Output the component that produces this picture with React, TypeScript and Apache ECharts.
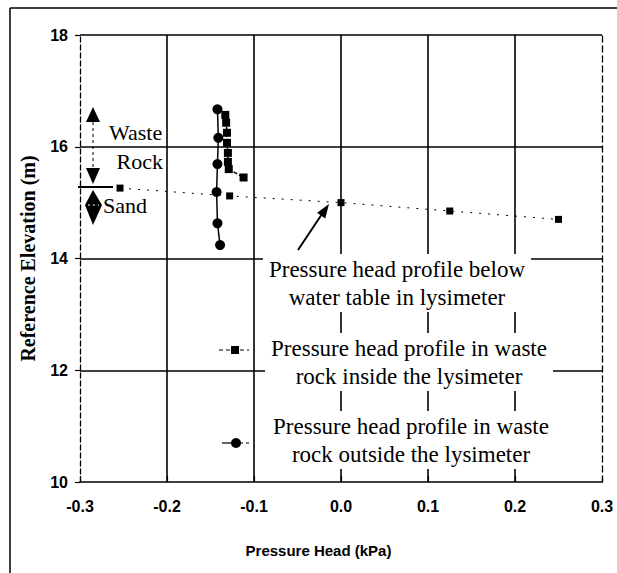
import React, { useEffect, useRef } from "react";
import * as echarts from "echarts";

// Pressure head (kPa) vs reference elevation (m)
const outsideX = [-0.142, -0.141, -0.142, -0.143, -0.142, -0.139];
const outsideY = [16.67, 16.16, 15.69, 15.19, 14.63, 14.24];

const insideX = [-0.133, -0.132, -0.131, -0.131, -0.13, -0.13, -0.129, -0.112];
const insideY = [16.57, 16.43, 16.25, 16.07, 15.89, 15.73, 15.6, 15.45];

const belowX = [-0.254, -0.128, 0.0, 0.125, 0.25];
const belowY = [15.26, 15.12, 15.0, 14.85, 14.7];

const xTickMin = -0.3;
const xTickMax = 0.3;
const xTickStep = 0.1;
const yTickMin = 10;
const yTickMax = 18;
const yTickStep = 2;

const legendBelow = "Pressure head profile below\nwater table in lysimeter";
const legendInside = "Pressure head profile in waste\nrock inside the lysimeter";
const legendOutside = "Pressure head profile in waste\nrock outside the lysimeter";

const zip = (xs: number[], ys: number[]) => xs.map((x, i) => [x, ys[i]]);

const SERIF = '"Liberation Serif", "Times New Roman", serif';
const SANS = '"Liberation Sans", Arial, sans-serif';

export default function App() {
  const ref = useRef<HTMLDivElement>(null);
  useEffect(() => {
    document.body.style.margin = "0";
    if (!ref.current) return;
    const chart = echarts.init(ref.current, undefined, { renderer: "svg" });
    const legendText = (text: string, x: number, y: number) => ({
      type: "text",
      x,
      y,
      z: 50,
      style: {
        text,
        align: "center",
        verticalAlign: "middle",
        font: `23px ${SERIF}`,
        fill: "#000",
        lineHeight: 28,
        backgroundColor: "#fff",
        padding: [1, 6, 1, 6],
      },
    });
    const blk = { fill: "#000" };
    chart.setOption({
      animation: false,
      backgroundColor: "#fff",
      grid: { left: 80, right: 15, top: 35, bottom: 91 },
      xAxis: [
        {
          type: "value",
          min: xTickMin,
          max: xTickMax,
          interval: xTickStep,
          name: "Pressure Head (kPa)",
          nameLocation: "middle",
          nameGap: 61,
          nameTextStyle: {
            fontFamily: SANS,
            fontSize: 15,
            fontWeight: "bold",
            color: "#000",
            padding: [0, 45, 0, 0],
          },
          axisLine: { show: true, onZero: false, lineStyle: { color: "#000", width: 1.6 } },
          axisTick: { show: true, inside: true, length: 6, lineStyle: { color: "#000", width: 1.2 } },
          axisLabel: {
            margin: 16,
            fontFamily: SANS,
            fontSize: 16,
            fontWeight: "bold",
            color: "#000",
            formatter: (v: number) => (Math.abs(v) < 1e-9 ? "0.0" : v.toFixed(1)),
          },
          splitLine: {
            show: true,
            showMinLine: false,
            showMaxLine: false,
            lineStyle: { color: "#000", width: 1.6 },
          },
        },
      ],
      yAxis: [
        {
          type: "value",
          min: yTickMin,
          max: yTickMax,
          interval: yTickStep,
          name: "Reference Elevation (m)",
          nameLocation: "middle",
          nameGap: 42,
          nameTextStyle: {
            fontFamily: SERIF,
            fontSize: 20,
            fontWeight: "bold",
            color: "#000",
          },
          axisLine: { show: true, onZero: false, lineStyle: { color: "#000", width: 1.3, type: [5, 3] } },
          axisTick: { show: true, length: 5, lineStyle: { color: "#000", width: 1.2 } },
          axisLabel: {
            margin: 12,
            fontFamily: SANS,
            fontSize: 16,
            fontWeight: "bold",
            color: "#000",
          },
          splitLine: {
            show: true,
            showMinLine: false,
            lineStyle: { color: "#000", width: 1.6 },
          },
        },
        {
          type: "value",
          position: "right",
          min: yTickMin,
          max: yTickMax,
          interval: yTickStep,
          axisLine: { show: true, onZero: false, lineStyle: { color: "#000", width: 1.3, type: [6, 4] } },
          axisTick: { show: false },
          axisLabel: { show: false },
          splitLine: { show: false },
        },
      ],
      series: [
        {
          name: "Pressure head profile in waste rock outside the lysimeter",
          type: "line",
          data: zip(outsideX, outsideY),
          symbol: "circle",
          symbolSize: 10,
          itemStyle: { color: "#000" },
          lineStyle: { color: "#000", width: 1.5 },
          z: 5,
        },
        {
          name: "Pressure head profile in waste rock inside the lysimeter",
          type: "line",
          data: zip(insideX, insideY),
          symbol: "rect",
          symbolSize: 8,
          itemStyle: { color: "#000" },
          lineStyle: { color: "#000", width: 1.5, type: [4, 2] },
          z: 4,
        },
        {
          name: "Pressure head profile below water table in lysimeter",
          type: "line",
          data: zip(belowX, belowY),
          symbol: "rect",
          symbolSize: 7,
          itemStyle: { color: "#000" },
          lineStyle: { color: "#000", width: 1, type: [2, 7] },
          z: 4,
        },
      ],
      graphic: [
        // outer frame (partial)
        { type: "line", shape: { x1: 10, y1: 8, x2: 617, y2: 8 }, style: { stroke: "#000", lineWidth: 1.5 } },
        { type: "line", shape: { x1: 10, y1: 8, x2: 10, y2: 573 }, style: { stroke: "#000", lineWidth: 1.5 } },
        // layer annotation on the left
        { type: "polygon", shape: { points: [[93, 107], [86, 122], [100, 122]] }, style: blk },
        { type: "line", shape: { x1: 93, y1: 122, x2: 93, y2: 168 }, style: { stroke: "#000", lineWidth: 1, lineDash: [3, 3] } },
        { type: "polygon", shape: { points: [[86, 168], [100, 168], [93, 184]] }, style: blk },
        { type: "line", shape: { x1: 78, y1: 187, x2: 113, y2: 187 }, style: { stroke: "#000", lineWidth: 2 } },
        { type: "polygon", shape: { points: [[93, 190], [102, 205], [93, 225], [85, 205]] }, style: blk },
        { type: "line", shape: { x1: 88, y1: 205, x2: 99, y2: 205 }, style: { stroke: "#fff", lineWidth: 1, lineDash: [2, 3] } },
        {
          type: "text",
          x: 109,
          y: 132,
          style: { text: "Waste", font: `22px ${SERIF}`, fill: "#000", align: "left", verticalAlign: "middle" },
        },
        {
          type: "text",
          x: 163,
          y: 161,
          style: { text: "Rock", font: `22px ${SERIF}`, fill: "#000", align: "right", verticalAlign: "middle" },
        },
        {
          type: "text",
          x: 103,
          y: 205,
          style: { text: "Sand", font: `22px ${SERIF}`, fill: "#000", align: "left", verticalAlign: "middle" },
        },
        // legend texts
        legendText(legendBelow, 397, 283),
        legendText(legendInside, 409, 362),
        legendText(legendOutside, 411, 440),
        // arrow
        { type: "line", shape: { x1: 298, y1: 250, x2: 322, y2: 214 }, style: { stroke: "#000", lineWidth: 2 }, z: 60 },
        { type: "polygon", shape: { points: [[329, 204], [325.3, 218.4], [317.1, 212.8]] }, style: blk, z: 60 },
        // legend symbols
        { type: "line", shape: { x1: 219, y1: 350, x2: 249, y2: 350 }, style: { stroke: "#000", lineWidth: 1, lineDash: [4, 3] } },
        { type: "rect", shape: { x: 231, y: 346, width: 8, height: 8 }, style: blk },
        { type: "line", shape: { x1: 222, y1: 443, x2: 232, y2: 443 }, style: { stroke: "#000", lineWidth: 1.2 } },
        { type: "line", shape: { x1: 240, y1: 443, x2: 251, y2: 443 }, style: { stroke: "#000", lineWidth: 1, lineDash: [3, 3] } },
        { type: "circle", shape: { cx: 236, cy: 443, r: 5 }, style: blk },
      ],
    });
    return () => chart.dispose();
  }, []);
  return <div ref={ref} style={{ width: 617, height: 573 }} />;
}
